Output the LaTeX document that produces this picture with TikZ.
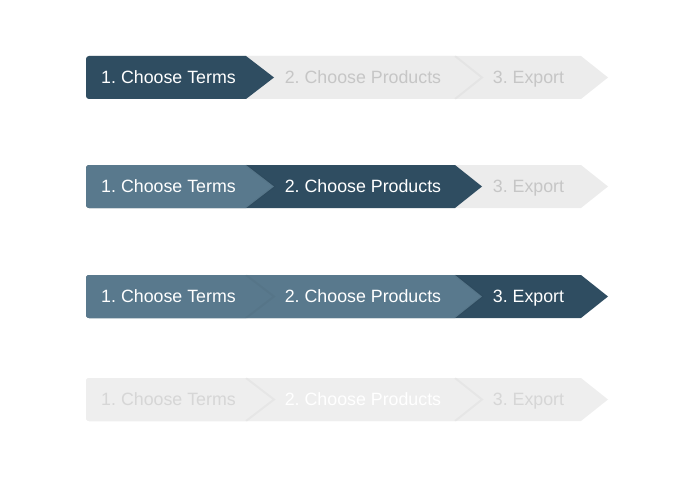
\documentclass[tikz,border=0pt]{standalone}
\usepackage{fontspec}
\setmainfont{Liberation Sans}
\usepackage{tikz}

\definecolor{activeblue}{RGB}{47,77,97}
\definecolor{doneblue}{RGB}{89,121,141}
\definecolor{todogrey}{RGB}{236,236,236}
\definecolor{offgrey}{RGB}{238,238,238}
\definecolor{todotextgrey}{RGB}{198,198,198}
\definecolor{offtextgrey}{RGB}{214,214,214}

% #1 fill, #2 top of the row, #3 top corner of the arrow, #4 tip of the arrow
\newcommand{\stepbar}[4]{%
\fill[#1] (86,#2+21.5) [rounded corners=3] -- (86,#2) [sharp corners] -- (#3,#2) -- (#4,#2+21.5) -- (#3,#2+43) [rounded corners=3] -- (86,#2+43) -- cycle;}

\tikzset{
  steptext/.style={font=\fontsize{17.8}{20}\selectfont\frenchspacing, inner sep=0pt, text height=12.8pt, text depth=0pt, anchor=center},
  activetext/.style={steptext, text=white},
  todotext/.style={steptext, text=todotextgrey},
  offtext/.style={steptext, text=offtextgrey},
  edgeshade/.style={draw=black, draw opacity=0.03, line width=2pt}
}

\begin{document}
\begin{tikzpicture}[x=1pt, y=-1pt]
\useasboundingbox (0,0) rectangle (700,476);

% step 1 active
\stepbar{todogrey}{56}{581}{608}
\stepbar{todogrey}{56}{455}{482}
\draw[edgeshade] (455,56) -- (482,77.5) -- (455,99);
\stepbar{activeblue}{56}{246}{274}
\node[activetext] (terms1) at (168.5,77.5) {1. Choose Terms};
\node[todotext] (products1) at (363,77.5) {2. Choose Products};
\node[todotext] (export1) at (528.5,77.5) {3. Export};

% step 2 active
\stepbar{todogrey}{165}{581}{608}
\stepbar{activeblue}{165}{455}{482}
\stepbar{doneblue}{165}{246}{274}
\draw[edgeshade] (246,165) -- (274,186.5) -- (246,208);
\node[activetext] (terms2) at (168.5,186.5) {1. Choose Terms};
\node[activetext] (products2) at (363,186.5) {2. Choose Products};
\node[todotext] (export2) at (528.5,186.5) {3. Export};

% step 3 active
\stepbar{activeblue}{275}{581}{608}
\stepbar{doneblue}{275}{455}{482}
\draw[edgeshade] (455,275) -- (482,296.5) -- (455,318);
\stepbar{doneblue}{275}{246}{274}
\draw[edgeshade] (246,275) -- (274,296.5) -- (246,318);
\node[activetext] (terms3) at (168.5,296.5) {1. Choose Terms};
\node[activetext] (products3) at (363,296.5) {2. Choose Products};
\node[activetext] (export3) at (528.5,296.5) {3. Export};

% all steps off
\stepbar{offgrey}{378}{581}{608}
\stepbar{offgrey}{378}{455}{482}
\draw[edgeshade] (455,378) -- (482,399.5) -- (455,421);
\stepbar{offgrey}{378}{246}{274}
\draw[edgeshade] (246,378) -- (274,399.5) -- (246,421);
\node[offtext] (terms4) at (168.5,399.5) {1. Choose Terms};
\node[activetext] (products4) at (363,399.5) {2. Choose Products};
\node[offtext] (export4) at (528.5,399.5) {3. Export};
\end{tikzpicture}
\end{document}
